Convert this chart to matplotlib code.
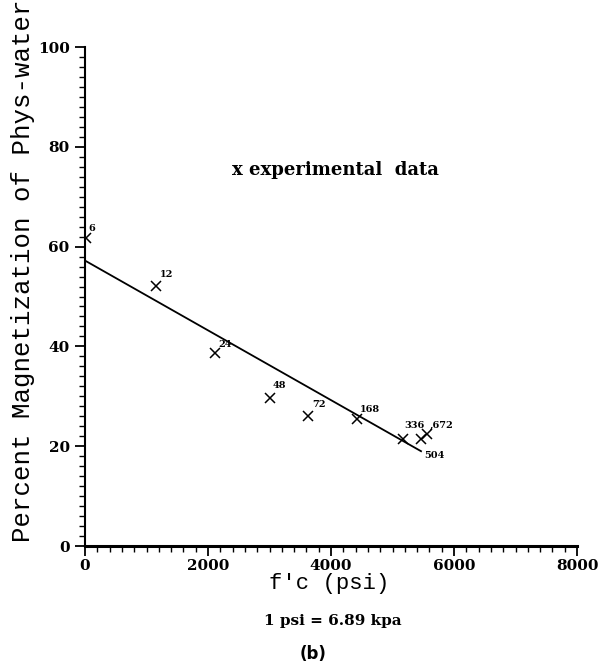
import matplotlib.pyplot as plt
import matplotlib.ticker as ticker

# experimental points (f'c in psi, percent magnetization), labelled by age
ages = ['6', '12', '24', '48', '72', '168', '336', '504', '672']
fc = [15, 1155, 2114, 3008, 3626, 4423, 5171, 5463, 5561]
magnet = [61.7, 52.1, 38.7, 29.7, 26.1, 25.5, 21.4, 21.4, 22.4]

# fitted straight line (end points)
fit_x = [0, 5463]
fit_y = [57.2, 19.0]

x_ticks = [0, 2000, 4000, 6000, 8000]
y_ticks = [0, 20, 40, 60, 80, 100]

# label offsets in points (dx, dy) for each age tag
offsets = [(2, 5), (3, 6.5), (2, 4.3), (2, 7), (3, 6.5), (2, 5), (1, 8), (2, -5), (2, 4.3)]

serif = 'DejaVu Serif'

fig = plt.figure(figsize=(6.03, 6.64), dpi=100)
ax = fig.add_axes([0.141, 0.1777, 0.816, 0.7515])

ax.plot(fit_x, fit_y, color='black', lw=1.3)
ax.plot(fc, magnet, linestyle='none', marker='x', color='black', ms=6.5, mew=1.1)

for lab, x, y, off in zip(ages, fc, magnet, offsets):
    txt = lab
    if lab == '504':
        x, y = fit_x[1], fit_y[1]
    if lab == '672':
        txt = ',' + lab
    ax.annotate(txt, (x, y), xytext=off, textcoords='offset points',
                fontsize=7, fontweight='bold', family=serif)

ax.text(2390, 75.4, 'x experimental  data', fontsize=13, fontweight='bold',
        family=serif, va='center')

ax.set_xlim(0, 8000)
ax.set_ylim(0, 100)
ax.spines['top'].set_visible(False)
ax.spines['right'].set_visible(False)
ax.spines['bottom'].set_linewidth(2.2)
ax.spines['left'].set_linewidth(1.5)

ax.xaxis.set_major_locator(ticker.FixedLocator(x_ticks))
ax.xaxis.set_minor_locator(ticker.MultipleLocator(200))
ax.yaxis.set_major_locator(ticker.FixedLocator(y_ticks))
ax.yaxis.set_minor_locator(ticker.MultipleLocator(2))
ax.tick_params(which='major', length=7, width=1.3, direction='out')
ax.tick_params(which='minor', length=4, width=1.0, direction='out')
ax.tick_params(axis='y', labelsize=11, pad=4)
ax.tick_params(axis='x', labelsize=11, pad=2.5)
for t in ax.get_xticklabels() + ax.get_yticklabels():
    t.set_family(serif)
    t.set_fontweight('bold')

fig.text(0.038, 0.5926, 'Percent Magnetization of Phys-water', rotation=90,
         ha='center', va='center', fontsize=18.5, family='Liberation Mono')
fig.text(0.546, 0.121, "f'c (psi)", ha='center', va='center',
         fontsize=16, family='Liberation Mono')
fig.text(0.552, 0.0648, '1 psi = 6.89 kpa', ha='center', va='center',
         fontsize=11, fontweight='bold', family=serif)
fig.text(0.519, 0.015, '(b)', ha='center', va='center',
         fontsize=12, fontweight='bold', family='DejaVu Sans')

plt.savefig('out.png', dpi=100)
